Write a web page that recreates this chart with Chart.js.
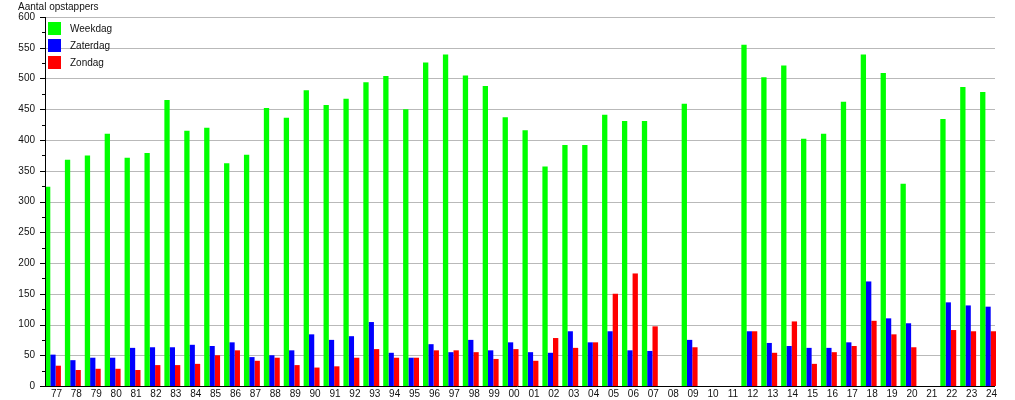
<!DOCTYPE html>
<html>
<head>
<meta charset="utf-8">
<title>Aantal opstappers</title>
<script src="https://cdn.jsdelivr.net/npm/chart.js@4.4.1/dist/chart.umd.min.js"></script>
<style>
    html, body { margin: 0; padding: 0; background: #fff; }
    #wrap { width: 1015px; height: 400px; position: relative; }
</style>
</head>
<body>
<div id="wrap"><canvas id="opstappers"></canvas></div>
<script>
// Years (two digits), 1977 - 2024
years = ["77", "78", "79", "80", "81", "82", "83", "84", "85", "86", "87", "88", "89", "90", "91",
    "92", "93", "94", "95", "96", "97", "98", "99", "00", "01", "02", "03", "04", "05", "06", "07",
    "08", "09", "10", "11", "12", "13", "14", "15", "16", "17", "18", "19", "20", "21", "22", "23", "24"];

weekdag = [324, 368, 375, 410, 371, 379, 465, 415, 420, 362, 376, 452, 436, 481, 457,
    467, 494, 504, 450, 526, 539, 505, 488, 437, 416, 357, 392, 392, 441, 431, 431,
    null, 459, null, null, 555, 502, 521, 402, 410, 462, 539, 509, 329, null, 434, 486, 478];

zaterdag = [51, 42, 46, 46, 62, 63, 63, 67, 65, 71, 47, 50, 58, 84, 75,
    81, 104, 54, 46, 68, 55, 75, 58, 71, 55, 54, 89, 71, 89, 58, 57,
    null, 75, null, null, 89, 70, 65, 62, 62, 71, 170, 110, 102, null, 136, 131, 129];

zondag = [33, 26, 28, 28, 26, 34, 34, 36, 50, 58, 41, 46, 34, 30, 32,
    46, 60, 46, 46, 58, 58, 55, 44, 60, 41, 78, 62, 71, 150, 183, 97,
    null, 63, null, null, 89, 54, 105, 36, 55, 65, 106, 84, 63, null, 91, 89, 89];

yTicks = [0, 50, 100, 150, 200, 250, 300, 350, 400, 450, 500, 550, 600];

Chart.defaults.font.family = "'Liberation Sans', Arial, sans-serif";
Chart.defaults.font.size = 10;
Chart.defaults.color = '#111';

// Grid, axis lines and minor ticks the way the old chart had them
const frame = {
    id: 'frame',
    beforeDatasetsDraw(chart) {
        const ctx = chart.ctx;
        const y = chart.scales.y;
        ctx.save();
        ctx.strokeStyle = '#b9b9b9';
        ctx.lineWidth = 1;
        for (let v of yTicks) {
            if (v === 0) continue;
            const py = Math.round(y.getPixelForValue(v)) + 0.5;
            ctx.beginPath();
            ctx.moveTo(45, py);
            ctx.lineTo(995, py);
            ctx.stroke();
        }
        ctx.restore();
    },
    afterDatasetsDraw(chart) {
        const ctx = chart.ctx;
        const y = chart.scales.y;
        const top = Math.round(y.getPixelForValue(600));
        const bottom = Math.round(y.getPixelForValue(0)) + 0.5;
        ctx.save();
        ctx.strokeStyle = '#000';
        ctx.lineWidth = 1;
        ctx.beginPath();
        ctx.moveTo(45.5, top);
        ctx.lineTo(45.5, bottom);
        ctx.moveTo(40, bottom);
        ctx.lineTo(995, bottom);
        // major and minor ticks
        for (let v = 0; v <= 600; v += 25) {
            const py = Math.round(y.getPixelForValue(v)) + 0.5;
            ctx.moveTo(v % 50 === 0 ? 40 : 42, py);
            ctx.lineTo(45, py);
        }
        ctx.stroke();

        // title above the axis
        ctx.fillStyle = '#111';
        ctx.font = "10px 'Liberation Sans', Arial, sans-serif";
        ctx.textBaseline = 'alphabetic';
        ctx.fillText('Aantal opstappers', 18, 10);

        // legend inside the plot, top left
        chart.data.datasets.forEach((ds, i) => {
            const ly = 22 + i * 17;
            ctx.fillStyle = ds.backgroundColor;
            ctx.fillRect(48, ly, 13, 13);
            ctx.fillStyle = '#111';
            ctx.textBaseline = 'middle';
            ctx.fillText(ds.label, 70, ly + 7);
        });
        ctx.restore();
    }
};

new Chart(document.getElementById('opstappers'), {
    type: 'bar',
    data: {
        labels: years,
        datasets: [
            { label: 'Weekdag', data: weekdag, backgroundColor: '#00ff00' },
            { label: 'Zaterdag', data: zaterdag, backgroundColor: '#0000ff' },
            { label: 'Zondag', data: zondag, backgroundColor: '#ff0000' }
        ]
    },
    options: {
        responsive: true,
        maintainAspectRatio: false,
        animation: false,
        categoryPercentage: 0.8,
        barPercentage: 1.0,
        layout: { padding: { top: 17, right: 17, left: 0, bottom: -3 } },
        plugins: {
            legend: { display: false },
            tooltip: { enabled: false }
        },
        scales: {
            x: {
                grid: { display: false, drawTicks: false },
                border: { display: false },
                ticks: {
                    autoSkip: false, maxRotation: 0, padding: 3, labelOffset: 3.5,
                    font: { size: 10, lineHeight: 1.0 }
                }
            },
            y: {
                min: 0,
                max: 600,
                grid: { display: false, drawTicks: false },
                border: { display: false },
                ticks: { stepSize: 50, padding: 8 },
                afterFit: (scale) => { scale.width = 43; }
            }
        }
    },
    plugins: [frame]
});
</script>
</body>
</html>
